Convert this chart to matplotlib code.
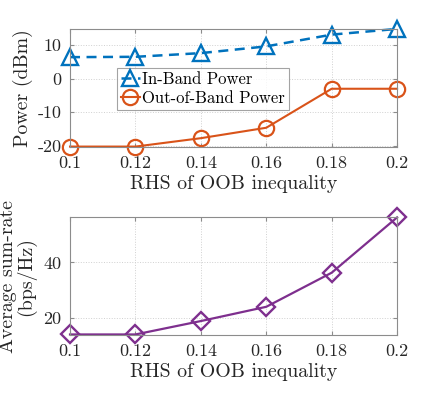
import matplotlib
matplotlib.use("Agg")
import matplotlib.pyplot as plt

plt.rcParams['font.family'] = 'serif'
plt.rcParams['font.serif'] = ['cmr10']
plt.rcParams['mathtext.fontset'] = 'cm'
plt.rcParams['axes.unicode_minus'] = False
plt.rcParams['axes.formatter.use_mathtext'] = False

x = [0.1, 0.12, 0.14, 0.16, 0.18, 0.2]
in_band = [6.4, 6.5, 7.6, 9.6, 13.1, 14.8]
out_band = [-20.2, -20.2, -17.7, -14.6, -3.0, -3.0]
sum_rate = [14.2, 14.2, 19.0, 24.1, 36.3, 56.1]

xticks = [0.1, 0.12, 0.14, 0.16, 0.18, 0.2]
xticklabels = ['0.1', '0.12', '0.14', '0.16', '0.18', '0.2']
top_yticks = [-20, -10, 0, 10]
top_yticklabels = ['-20', '-10', '0', '10']
bot_yticks = [20, 40]
bot_yticklabels = ['20', '40']

blue = '#0072BD'
orange = '#D95319'
purple = '#7E2F8E'

fig = plt.figure(figsize=(4.39, 3.96), dpi=100)
ax1 = fig.add_axes([0.1595, 0.629, 0.745, 0.298])
ax2 = fig.add_axes([0.1595, 0.154, 0.745, 0.297])

fs = 13
lfs = 14.3

def style(ax):
    for s in ax.spines.values():
        s.set_color('#8c8c8c')
        s.set_linewidth(0.8)
    ax.tick_params(direction='in', length=3, color='#8c8c8c', labelsize=fs,
                   top=True, right=True, labelcolor='#262626', pad=6)
    ax.grid(True, linestyle=':', color='#d0d0d0', linewidth=0.7)
    ax.set_xlim(0.1, 0.2)
    ax.set_xticks(xticks)
    ax.set_xticklabels(xticklabels)
    ax.set_xlabel('RHS of OOB inequality', fontsize=lfs, color='#262626', labelpad=3)

ax1.plot(x, in_band, linestyle='--', dashes=(4, 2.6), color=blue, linewidth=1.8,
         marker='^', markersize=12, markerfacecolor='none', markeredgewidth=1.7,
         label='In-Band Power', clip_on=False)
ax1.plot(x, out_band, linestyle='-', color=orange, linewidth=1.5,
         marker='o', markersize=11, markerfacecolor='none', markeredgewidth=1.6,
         label='Out-of-Band Power', clip_on=False)
style(ax1)
ax1.set_ylim(-20.3, 14.8)
ax1.set_yticks(top_yticks)
ax1.set_yticklabels(top_yticklabels)
ax1.set_ylabel('Power (dBm)', fontsize=lfs, color='#262626', labelpad=3)
leg = ax1.legend(loc='upper left', bbox_to_anchor=(0.144, 0.67), fontsize=12,
                 frameon=True, fancybox=False, edgecolor='#8c8c8c',
                 borderpad=0.25, labelspacing=0.2, handlelength=1.1,
                 handletextpad=0.15, borderaxespad=0)
leg.get_frame().set_linewidth(0.8)

ax2.plot(x, sum_rate, linestyle='-', color=purple, linewidth=1.6,
         marker='D', markersize=9, markerfacecolor='none', markeredgewidth=1.7,
         clip_on=False)
style(ax2)
ax2.set_ylim(14.0, 56.1)
ax2.set_yticks(bot_yticks)
ax2.set_yticklabels(bot_yticklabels)
ax2.set_ylabel('Average sum-rate\n(bps/Hz)', fontsize=lfs, color='#262626',
               labelpad=5, linespacing=0.95)

fig.savefig('out.png', dpi=100)
